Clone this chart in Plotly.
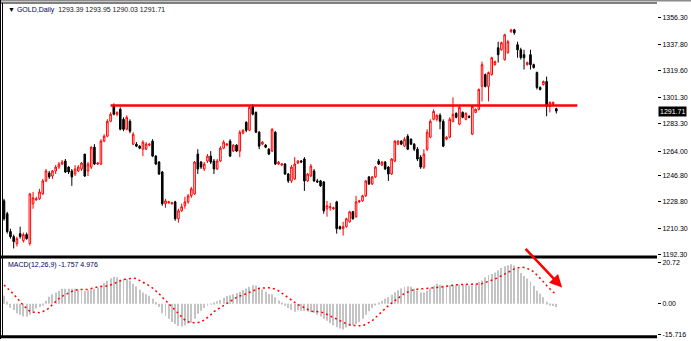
import plotly.graph_objects as go

# ---------------- data ----------------
opens = [1229.5, 1220.6, 1208.2, 1204.7, 1199.9, 1206.8, 1201.9, 1206.1, 1199.9, 1227.5,
         1230.2, 1230.9, 1234.3, 1243.3, 1248.8, 1246.7, 1250.2, 1252.9, 1255.0, 1257.1,
         1252.9, 1250.2, 1248.1, 1250.2, 1251.6, 1261.9, 1250.2, 1252.9, 1266.7, 1255.0,
         1255.0, 1270.9, 1274.3, 1284.6, 1295.0, 1289.5, 1292.9, 1286.0, 1279.1, 1284.6,
         1268.8, 1268.8, 1267.4, 1265.3, 1265.3, 1268.1, 1270.9, 1260.5, 1256.4, 1249.5,
         1227.5, 1228.1, 1227.5, 1228.8, 1217.1, 1222.6, 1226.1, 1228.8, 1233.0, 1234.3,
         1261.9, 1256.4, 1251.6, 1257.1, 1260.5, 1257.1, 1251.6, 1257.1, 1266.0, 1268.1,
         1270.9, 1264.0, 1268.1, 1264.0, 1276.4, 1284.0, 1278.4, 1295.0, 1290.8, 1277.1,
         1268.8, 1268.1, 1265.3, 1264.0, 1277.1, 1255.0, 1254.3, 1255.0, 1248.1, 1243.3,
         1244.7, 1255.7, 1257.1, 1258.5, 1243.3, 1246.7, 1250.2, 1243.3, 1243.3, 1242.6,
         1224.0, 1224.7, 1224.0, 1228.8, 1211.6, 1210.2, 1211.6, 1215.0, 1221.9, 1218.5,
         1228.8, 1229.5, 1233.0, 1246.1, 1241.2, 1246.1, 1257.1, 1254.3, 1256.4, 1252.9,
         1248.1, 1257.1, 1268.8, 1270.9, 1267.4, 1274.3, 1272.2, 1268.8, 1265.3, 1259.8,
         1252.9, 1265.3, 1273.6, 1286.0, 1286.0, 1288.8, 1284.6, 1272.2, 1273.6, 1284.6,
         1290.2, 1282.6, 1290.8, 1286.0, 1288.1, 1275.7, 1290.8, 1292.9, 1308.8, 1317.0,
         1308.8, 1317.0, 1323.9, 1335.6, 1334.2, 1327.4, 1332.2, 1346.7, 1348.0, 1337.7,
         1334.2, 1330.8, 1323.9, 1330.8, 1323.9, 1318.4, 1308.1, 1310.1, 1312.2, 1295.0,
         1296.4, 1293.39]

highs = [1230.9, 1221.9, 1210.2, 1206.1, 1204.7, 1211.6, 1207.5, 1207.5, 1235.0, 1235.7,
         1232.3, 1237.8, 1244.7, 1251.6, 1250.2, 1250.9, 1254.3, 1256.4, 1257.8, 1258.5,
         1253.6, 1251.6, 1254.3, 1254.3, 1256.4, 1261.9, 1256.4, 1267.4, 1268.8, 1256.4,
         1272.2, 1275.7, 1286.0, 1290.8, 1297.0, 1291.5, 1294.3, 1287.4, 1288.8, 1286.0,
         1277.1, 1270.2, 1268.1, 1271.5, 1270.2, 1269.5, 1272.2, 1261.2, 1257.1, 1250.2,
         1230.9, 1229.5, 1228.8, 1229.5, 1224.0, 1227.5, 1232.3, 1234.3, 1239.2, 1257.1,
         1265.3, 1257.1, 1256.4, 1261.9, 1264.0, 1258.5, 1258.5, 1267.4, 1271.5, 1269.5,
         1272.2, 1268.8, 1268.8, 1278.4, 1279.1, 1284.6, 1295.0, 1296.4, 1291.5, 1277.8,
         1270.9, 1268.8, 1266.0, 1279.8, 1277.8, 1257.1, 1255.7, 1255.7, 1248.8, 1254.3,
         1259.8, 1257.8, 1257.8, 1259.8, 1248.8, 1255.0, 1251.6, 1244.7, 1244.0, 1243.3,
         1229.5, 1228.1, 1225.4, 1229.5, 1212.3, 1215.0, 1217.8, 1222.6, 1222.6, 1233.0,
         1230.2, 1233.7, 1244.0, 1246.7, 1246.7, 1253.6, 1258.5, 1257.1, 1257.1, 1253.6,
         1259.1, 1271.5, 1271.5, 1271.5, 1273.6, 1275.7, 1272.9, 1269.5, 1266.7, 1261.2,
         1265.3, 1279.1, 1286.0, 1292.9, 1289.5, 1290.2, 1286.0, 1274.3, 1287.4, 1301.2,
         1290.8, 1295.0, 1291.5, 1290.8, 1288.8, 1295.7, 1293.6, 1307.4, 1326.0, 1317.7,
         1319.1, 1329.4, 1326.7, 1339.8, 1339.8, 1345.3, 1341.1, 1348.7, 1348.7, 1339.8,
         1335.6, 1334.2, 1326.0, 1334.2, 1324.6, 1319.1, 1308.8, 1312.9, 1315.6, 1298.4,
         1298.4, 1293.95]

lows = [1215.7, 1206.8, 1203.3, 1196.5, 1197.9, 1203.3, 1200.6, 1202.6, 1198.5, 1224.0,
        1229.5, 1230.2, 1233.7, 1242.6, 1244.7, 1244.7, 1248.1, 1251.6, 1254.3, 1248.8,
        1248.1, 1239.9, 1246.7, 1249.5, 1250.2, 1246.1, 1246.7, 1251.6, 1254.3, 1254.3,
        1254.3, 1270.2, 1273.6, 1284.0, 1288.8, 1288.1, 1278.4, 1277.8, 1278.4, 1276.4,
        1268.1, 1266.7, 1265.3, 1260.5, 1264.7, 1267.4, 1259.8, 1254.3, 1247.4, 1226.1,
        1224.7, 1227.5, 1226.8, 1215.7, 1214.4, 1221.9, 1224.0, 1227.5, 1231.6, 1233.7,
        1248.1, 1251.6, 1250.2, 1255.7, 1255.0, 1248.1, 1250.9, 1256.4, 1265.3, 1267.4,
        1259.8, 1263.3, 1263.3, 1259.8, 1275.7, 1277.1, 1277.8, 1288.8, 1276.4, 1265.3,
        1268.1, 1266.0, 1261.2, 1263.3, 1254.3, 1254.3, 1253.6, 1247.4, 1241.9, 1241.9,
        1244.0, 1255.0, 1255.7, 1236.4, 1242.6, 1246.1, 1242.6, 1241.9, 1239.2, 1220.6,
        1218.5, 1222.6, 1223.3, 1206.8, 1209.5, 1205.4, 1210.9, 1214.4, 1216.4, 1217.8,
        1228.1, 1228.8, 1232.3, 1240.5, 1240.5, 1245.4, 1254.3, 1253.6, 1250.9, 1243.3,
        1247.4, 1256.4, 1268.1, 1268.1, 1266.7, 1264.7, 1268.1, 1264.0, 1257.1, 1251.6,
        1251.6, 1264.0, 1272.9, 1285.3, 1284.6, 1279.1, 1266.7, 1271.5, 1272.9, 1284.0,
        1286.7, 1281.9, 1286.7, 1285.3, 1286.7, 1275.0, 1290.2, 1292.2, 1298.4, 1308.1,
        1298.4, 1316.3, 1323.2, 1325.3, 1333.6, 1326.7, 1331.5, 1346.0, 1344.6, 1328.7,
        1327.4, 1320.5, 1323.2, 1320.5, 1321.2, 1306.7, 1306.0, 1309.4, 1288.1, 1290.8,
        1295.7, 1290.03]

closes = [1217.1, 1208.2, 1204.7, 1201.3, 1203.3, 1204.7, 1206.1, 1203.3, 1234.3, 1231.6,
          1230.9, 1235.7, 1243.3, 1250.2, 1246.1, 1250.2, 1252.9, 1255.0, 1256.4, 1249.5,
          1249.5, 1246.1, 1251.6, 1252.9, 1255.7, 1246.7, 1255.0, 1266.7, 1255.0, 1255.7,
          1270.9, 1274.3, 1284.6, 1289.5, 1289.5, 1290.8, 1279.1, 1279.1, 1287.4, 1277.8,
          1275.7, 1267.4, 1266.0, 1270.2, 1268.8, 1268.8, 1260.5, 1255.0, 1248.1, 1227.5,
          1229.5, 1228.8, 1228.1, 1217.1, 1222.6, 1225.4, 1228.8, 1233.0, 1237.8, 1256.4,
          1251.6, 1252.9, 1255.0, 1260.5, 1256.4, 1251.6, 1257.1, 1266.0, 1270.2, 1268.8,
          1260.5, 1268.1, 1264.0, 1277.1, 1278.4, 1278.4, 1294.3, 1289.5, 1277.1, 1267.4,
          1270.2, 1266.7, 1261.9, 1279.1, 1255.0, 1256.4, 1255.0, 1248.1, 1243.3, 1252.9,
          1255.0, 1257.1, 1256.4, 1243.3, 1248.1, 1253.6, 1243.3, 1242.6, 1239.9, 1222.6,
          1226.1, 1225.4, 1224.7, 1210.2, 1210.2, 1211.6, 1217.1, 1221.9, 1217.1, 1228.8,
          1229.5, 1233.0, 1243.3, 1241.2, 1246.1, 1252.9, 1255.0, 1256.4, 1251.6, 1248.1,
          1258.5, 1270.9, 1270.9, 1268.8, 1272.2, 1265.3, 1268.8, 1265.3, 1258.5, 1252.9,
          1261.9, 1277.1, 1284.6, 1291.5, 1288.8, 1284.6, 1267.4, 1273.6, 1286.0, 1289.5,
          1287.4, 1294.3, 1287.4, 1290.2, 1287.4, 1295.0, 1292.9, 1306.7, 1323.9, 1308.8,
          1318.4, 1328.7, 1326.0, 1330.8, 1339.1, 1344.6, 1339.8, 1348.0, 1346.0, 1334.2,
          1328.7, 1328.7, 1325.3, 1323.9, 1321.9, 1308.1, 1306.7, 1312.2, 1295.0, 1297.7,
          1297.7, 1291.71]

macd_main = [4.0, 1.0, -2.0, -3.2, -4.8, -5.6, -6.4, -6.4, -5.6, -4.0,
             -2.4, -1.6, -0.4, 1.5, 3.5, 4.8, 5.6, 6.5, 7.5, 7.5,
             7.5, 7.5, 7.5, 7.2, 6.4, 6.4, 6.6, 7.2, 7.5, 8.0,
             9.0, 10.4, 11.5, 12.8, 13.6, 13.3, 12.2, 12.5, 12.3, 11.5,
             10.0, 8.8, 7.0, 5.6, 4.8, 4.0, 2.5, 0.8, -1.6, -4.8,
             -6.2, -7.5, -9.2, -10.2, -11.2, -11.5, -11.0, -10.0, -9.6, -7.5,
             -5.0, -3.5, -2.2, -1.0, -0.2, 0.5, 1.2, 1.9, 3.0, 3.9,
             4.3, 4.8, 5.4, 6.0, 6.9, 7.6, 8.5, 9.3, 9.2, 8.2,
             7.2, 6.0, 4.9, 4.8, 3.2, 1.6, 0.5, -1.0, -2.1, -3.2,
             -4.0, -3.3, -3.5, -3.7, -4.0, -4.3, -4.5, -5.5, -6.4, -7.5,
             -8.6, -9.8, -10.8, -11.8, -12.5, -13.0, -12.0, -11.2, -10.8, -10.2,
             -9.2, -7.5, -5.5, -3.8, -2.2, -0.6, 0.4, 1.5, 2.5, 3.2,
             4.5, 5.8, 6.8, 7.7, 8.6, 8.8, 8.5, 7.5, 6.6, 5.6,
             5.6, 6.5, 7.8, 9.0, 10.0, 9.6, 9.2, 9.3, 9.4, 9.5,
             9.6, 9.6, 9.6, 9.6, 9.2, 9.1, 10.0, 11.0, 11.7, 13.3,
             14.4, 15.0, 15.7, 16.8, 18.0, 18.8, 19.4, 19.9, 19.2, 17.5,
             15.5, 14.0, 12.7, 11.2, 9.0, 6.5, 5.0, 3.3, 1.0, -0.5,
             -1.2, -1.757]

macd_signal = [9.4, 8.0, 6.6, 4.8, 2.9, 0.8, -0.9, -2.3, -3.8, -4.3,
               -4.5, -4.5, -4.0, -3.3, -2.2, -0.4, 1.2, 2.6, 3.7, 4.6,
               5.5, 6.2, 6.7, 7.2, 7.2, 7.2, 7.2, 7.6, 8.1, 8.4,
               8.7, 8.8, 8.9, 9.4, 10.1, 11.0, 11.9, 12.2, 12.4, 12.7,
               12.8, 12.6, 11.8, 10.8, 9.8, 9.0, 7.9, 6.6, 5.0, 3.3,
               1.6, -0.1, -1.5, -3.2, -5.0, -6.4, -8.2, -9.0, -9.6, -9.6,
               -9.5, -9.2, -8.2, -7.0, -5.6, -4.0, -3.0, -2.0, -0.6, 0.3,
               1.1, 2.2, 3.2, 3.9, 4.3, 5.1, 5.8, 6.4, 7.2, 7.7,
               7.9, 8.0, 8.0, 7.7, 7.3, 6.5, 5.3, 4.2, 3.2, 2.0,
               0.6, -0.5, -1.2, -2.0, -2.9, -3.7, -3.9, -4.0, -4.1, -4.6,
               -5.3, -6.1, -6.9, -7.7, -8.5, -9.4, -10.1, -10.6, -10.9, -11.1,
               -11.2, -11.2, -10.3, -9.5, -8.6, -7.0, -5.4, -3.7, -2.3, -1.0,
               0.3, 1.6, 2.9, 4.2, 5.2, 5.9, 6.6, 7.1, 7.3, 7.4,
               7.5, 7.6, 7.8, 8.0, 8.1, 8.3, 8.5, 8.8, 9.2, 9.4,
               9.6, 9.6, 9.6, 9.6, 9.6, 9.7, 9.8, 9.9, 10.1, 10.6,
               11.1, 11.6, 12.4, 13.2, 14.1, 15.1, 16.0, 16.9, 17.5, 18.0,
               18.4, 18.2, 17.7, 17.1, 16.0, 14.5, 12.7, 11.1, 9.2, 7.4,
               5.8, 4.976]

price_tick_values = [1356.3, 1337.8, 1319.6, 1301.3, 1283.3, 1264.0, 1246.8, 1228.8, 1210.3, 1192.3]
price_tick_labels = ["1356.30", "1337.80", "1319.60", "1301.30", "1283.30", "1264.00",
                     "1246.80", "1228.80", "1210.30", "1192.30"]
macd_tick_values = [20.72, 0.0, -15.716]
macd_tick_labels = ["20.72", "0.00", "-15.716"]

symbol = "GOLD,Daily"
last_ohlc = ["1293.39", "1293.95", "1290.03", "1291.71"]
last_price = 1291.71
macd_label = "MACD(12,26,9) -1.757 4.976"
level_price = 1295.5          # horizontal resistance line
level_from, level_to = 33, 177.5

bars = list(range(len(closes)))

# ---------------- figure ----------------
W, H = 691, 341
PLOT_R = 657  # right edge of chart area (px)
FONT = "Liberation Sans, Arial, sans-serif"

def py(p):  # pixel row -> paper y
    return (H - p) / H

def px(p):  # pixel col -> paper x
    return p / PLOT_R

fig = go.Figure()
fig.add_trace(go.Candlestick(
    x=bars, open=opens, high=highs, low=lows, close=closes,
    increasing=dict(line=dict(color="#FF0000", width=1), fillcolor="#FFFFFF"),
    decreasing=dict(line=dict(color="#000000", width=1), fillcolor="#000000"),
    whiskerwidth=0, xaxis="x", yaxis="y", showlegend=False, hoverinfo="skip"))
fig.add_trace(go.Bar(
    x=bars, y=macd_main, width=0.3,
    marker=dict(color="#C4C4C4", line=dict(width=0)),
    xaxis="x", yaxis="y2", showlegend=False, hoverinfo="skip"))
fig.add_trace(go.Scatter(
    x=bars, y=macd_signal, mode="lines",
    line=dict(color="#FF0000", width=1.5, dash="2px,3px"),
    xaxis="x", yaxis="y2", showlegend=False, hoverinfo="skip"))

axis_font = dict(family=FONT, size=7, color="#000000")
fig.update_layout(
    width=W, height=H,
    margin=dict(l=0, r=W - PLOT_R, t=0, b=0),
    paper_bgcolor="#FFFFFF", plot_bgcolor="#FFFFFF",
    showlegend=False,
    xaxis=dict(domain=[0, 1], range=[-1.238, 202.17], visible=False,
               rangeslider=dict(visible=False), anchor="y"),
    yaxis=dict(domain=[py(258), py(3)], range=[1190.94, 1366.63], side="right",
               anchor="x", tickvals=price_tick_values, ticktext=price_tick_labels,
               ticks="outside", ticklen=3, tickcolor="#000000", tickwidth=1,
               showgrid=False, zeroline=False, showline=False, tickfont=axis_font),
    yaxis2=dict(domain=[py(338), py(260)], range=[-16.25, 22.75], side="right",
                anchor="x", tickvals=macd_tick_values, ticktext=macd_tick_labels,
                ticks="outside", ticklen=3, tickcolor="#000000", tickwidth=1,
                showgrid=False, zeroline=False, showline=False, tickfont=axis_font),
)

shapes = [
    # resistance line
    dict(type="line", xref="x", yref="y", x0=level_from, x1=level_to,
         y0=level_price, y1=level_price, line=dict(color="#FF0000", width=2.5)),
    # frame
    dict(type="line", xref="paper", yref="paper", x0=0, x1=W / PLOT_R, y0=py(0.8), y1=py(0.8),
         line=dict(color="#8C8C8C", width=1.6)),
    dict(type="line", xref="paper", yref="paper", x0=0, x1=1, y0=py(3), y1=py(3),
         line=dict(color="#000000", width=1.2)),
    dict(type="line", xref="paper", yref="paper", x0=px(0.5), x1=px(0.5), y0=py(341), y1=py(0),
         line=dict(color="#000000", width=1)),
    dict(type="line", xref="paper", yref="paper", x0=px(2.5), x1=px(2.5), y0=py(338), y1=py(3),
         line=dict(color="#000000", width=1)),
    dict(type="line", xref="paper", yref="paper", x0=0, x1=1, y0=py(258.5), y1=py(258.5),
         line=dict(color="#000000", width=3)),
    dict(type="line", xref="paper", yref="paper", x0=0, x1=1, y0=py(338.8), y1=py(338.8),
         line=dict(color="#000000", width=3)),
]
fig.update_layout(shapes=shapes)

annotations = [
    dict(xref="paper", yref="paper", x=px(6), y=py(10), xanchor="left", yanchor="middle",
         showarrow=False,
         text=("<span style='color:#000000'>▼</span> <span style='color:#000060'>" + symbol +
               "</span>  <span style='color:#202020'>" + " ".join(last_ohlc) + "</span>"),
         font=dict(family=FONT, size=7)),
    dict(xref="paper", yref="paper", x=px(6), y=py(267), xanchor="left", yanchor="middle",
         showarrow=False, text=macd_label,
         font=dict(family=FONT, size=7, color="#000060")),
    dict(xref="paper", yref="y", x=1, y=last_price, xanchor="left", yanchor="middle",
         xshift=1, showarrow=False, text="%.2f" % last_price, bgcolor="#000000",
         borderpad=1, font=dict(family=FONT, size=7, color="#FFFFFF")),
    dict(xref="x", yref="y2", x=172.8, y=8.2, ax=-38, ay=-40, axref="pixel", ayref="pixel",
         showarrow=True, text="", arrowhead=2, arrowsize=1, arrowwidth=2.5,
         arrowcolor="#FF0000", standoff=0),
]
fig.update_layout(annotations=annotations)

fig.write_html("out.html")
